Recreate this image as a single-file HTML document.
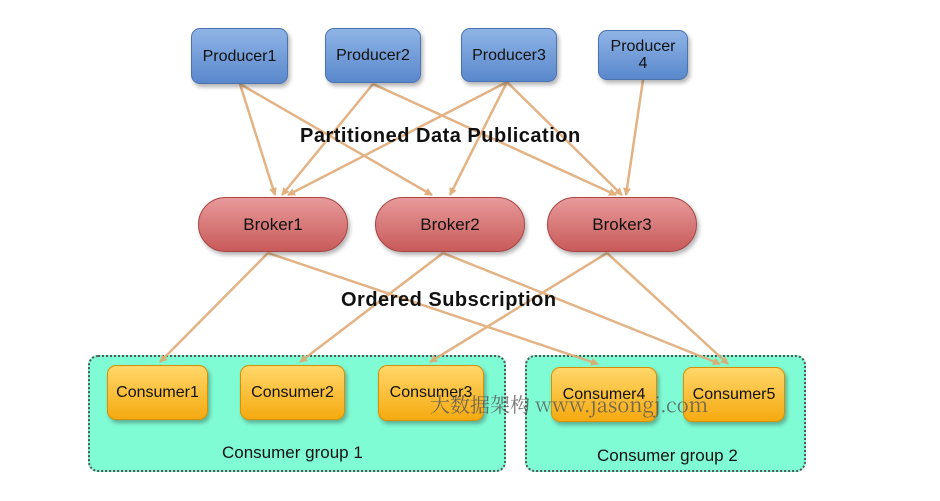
<!DOCTYPE html>
<html><head><meta charset="utf-8"><style>
body{margin:0;background:#fff;width:940px;height:501px;overflow:hidden;position:relative;font-family:"Liberation Sans",sans-serif}
.b{position:absolute;display:flex;align-items:center;justify-content:center;text-align:center;box-sizing:border-box}
.p{background:linear-gradient(#8fb4e6,#5a88cc);border:1px solid #4a73b0;border-radius:9px;font-size:16px;color:#111;line-height:17px;box-shadow:2px 3px 4px rgba(0,0,0,.3)}
.k{background:linear-gradient(#e89a9a,#c85a5a);border:1px solid #a84444;border-radius:28px;font-size:17px;color:#111;box-shadow:2px 3px 4px rgba(0,0,0,.3)}
.c{background:linear-gradient(#ffd76a,#f5aa10);border:1px solid #d89000;border-radius:9px;font-size:16px;color:#111;box-shadow:2px 3px 4px rgba(0,0,0,.3)}
.g{position:absolute;background:#80fcd4;border:2px dotted #555;border-radius:10px;box-sizing:border-box}
.gl{position:absolute;font-size:17px;color:#111}
.t{position:absolute;font-weight:bold;font-size:20px;letter-spacing:0.5px;color:#111;white-space:nowrap}
</style></head><body>
<div class="g" style="left:88px;top:355px;width:418px;height:117px"></div>
<div class="g" style="left:525px;top:355px;width:281px;height:117px"></div>
<div class="gl" style="left:222px;top:443px">Consumer group 1</div>
<div class="gl" style="left:597px;top:446px">Consumer group 2</div>
<svg width="940" height="501" style="position:absolute;left:0;top:0">
<defs><marker id="a" markerWidth="8" markerHeight="8" refX="7" refY="4" orient="auto" markerUnits="userSpaceOnUse" viewBox="0 0 8 8"><path d="M0,0 L8,4 L0,8 z" fill="#e0a870"/></marker></defs>
<g stroke="#e0ab78" stroke-width="2.5" fill="none" marker-end="url(#a)" opacity="0.9">
<line x1="240" y1="84" x2="275" y2="195"/>
<line x1="240" y1="84" x2="432" y2="195"/>
<line x1="373" y1="84" x2="282" y2="195"/>
<line x1="373" y1="84" x2="616" y2="195"/>
<line x1="507" y1="82" x2="288" y2="195"/>
<line x1="507" y1="82" x2="450" y2="195"/>
<line x1="507" y1="82" x2="622" y2="195"/>
<line x1="643" y1="80" x2="626" y2="195"/>
<line x1="268" y1="253" x2="160" y2="362"/>
<line x1="268" y1="253" x2="598" y2="364"/>
<line x1="443" y1="253" x2="300" y2="362"/>
<line x1="443" y1="253" x2="720" y2="364"/>
<line x1="607" y1="253" x2="430" y2="362"/>
<line x1="607" y1="253" x2="728" y2="364"/>
</g>
</svg>
<div class="t" style="left:300px;top:125px">Partitioned Data Publication</div>
<div class="t" style="left:341px;top:289px">Ordered Subscription</div>
<div class="b p" style="left:191px;top:28px;width:97px;height:56px">Producer1</div>
<div class="b p" style="left:325px;top:28px;width:96px;height:55px">Producer2</div>
<div class="b p" style="left:461px;top:28px;width:96px;height:54px">Producer3</div>
<div class="b p" style="left:598px;top:30px;width:90px;height:50px">Producer<br>4</div>
<div class="b k" style="left:198px;top:197px;width:150px;height:55px">Broker1</div>
<div class="b k" style="left:375px;top:197px;width:150px;height:55px">Broker2</div>
<div class="b k" style="left:547px;top:197px;width:150px;height:55px">Broker3</div>
<div class="b c" style="left:107px;top:365px;width:101px;height:55px">Consumer1</div>
<div class="b c" style="left:240px;top:365px;width:105px;height:55px">Consumer2</div>
<div class="b c" style="left:378px;top:365px;width:106px;height:56px">Consumer3</div>
<div class="b c" style="left:551px;top:367px;width:106px;height:55px">Consumer4</div>
<div class="b c" style="left:683px;top:367px;width:102px;height:55px">Consumer5</div>
<svg width="940" height="501" style="position:absolute;left:0;top:0">
<text x="430" y="412" font-family="Noto Serif CJK SC,serif" font-size="20" fill="#555" opacity="0.8">大数据架构 www.jasongj.com</text>
</svg>
</body></html>
